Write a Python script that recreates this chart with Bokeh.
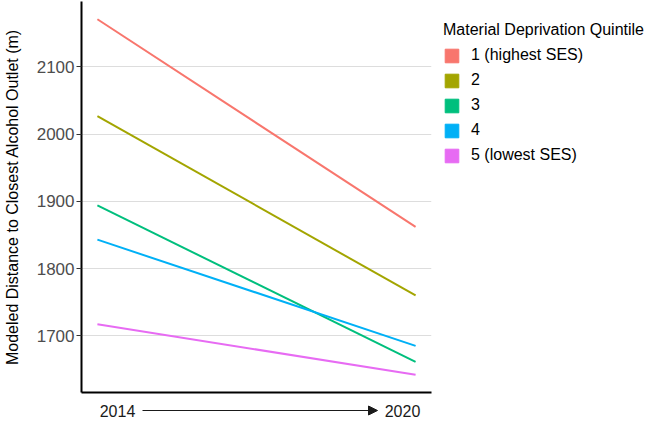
from bokeh.plotting import figure
from bokeh.layouts import row, column
from bokeh.models import (Legend, LegendItem, Arrow, NormalHead,
                          FixedTicker, Range1d)
from bokeh.core.properties import value
from bokeh.embed import file_html
from bokeh.resources import INLINE

# ---- data ----
years = [2014, 2020]
quintiles = ["1 (highest SES)", "2", "3", "4", "5 (lowest SES)"]
dist_2014 = [2171, 2027, 1894, 1843, 1717]
dist_2020 = [1862, 1760, 1661, 1685, 1642]
colors = ["#F8766D", "#A3A500", "#00BF7D", "#00B0F6", "#E76BF3"]
y_ticks = [1700, 1800, 1900, 2000, 2100]
legend_title = "Material Deprivation Quintile"
y_title = "Modeled Distance to Closest Alcohol Outlet (m)"
x_title_start = "2014"
x_title_end = "2020"

FONT = "Liberation Sans"

all_vals = dist_2014 + dist_2020
lo, hi = min(all_vals), max(all_vals)
ypad = 0.05 * (hi - lo)
xpad = 0.05 * (years[1] - years[0])
x0, x1 = years[0] - xpad, years[1] + xpad
y0, y1 = lo - ypad, hi + ypad

TOTAL_W, TOTAL_H = 648, 421
MAIN_W, MAIN_H = 434, 395
LEG_W = TOTAL_W - MAIN_W
XT_H = TOTAL_H - MAIN_H
BT, BB = 1, 3
FH = MAIN_H - BT - BB

# ---------------- main plot ----------------
p = figure(width=MAIN_W, height=MAIN_H, output_backend="svg",
           toolbar_location=None,
           x_range=Range1d(x0, x1), y_range=Range1d(y0, y1),
           min_border_left=0, min_border_right=3, min_border_top=BT,
           min_border_bottom=BB)
p.outline_line_color = None
p.background_fill_color = "white"
p.border_fill_color = "white"

for i, q in enumerate(quintiles):
    p.line(years, [dist_2014[i], dist_2020[i]], line_color=colors[i],
           line_width=2)

ya = p.yaxis[0]
ya.ticker = FixedTicker(ticks=y_ticks)
ya.major_label_text_font_size = "17px"
ya.major_label_text_font = FONT
ya.major_label_text_color = "#4D4D4D"
ya.major_tick_out = 5
ya.major_tick_in = 0
ya.major_tick_line_color = "#333333"
ya.minor_tick_out = 0
ya.minor_tick_in = 0
ya.major_label_standoff = 2
ya.axis_line_width = 2
ya.axis_line_color = "black"
ya.axis_label = y_title
ya.axis_label_text_font = FONT
ya.axis_label_text_font_size = "16px"
ya.axis_label_text_font_style = "normal"
ya.axis_label_text_color = "black"
ya.axis_label_standoff = 13

xa = p.xaxis[0]
xa.ticker = FixedTicker(ticks=[])
xa.major_tick_out = 0
xa.major_tick_in = 0
xa.minor_tick_out = 0
xa.minor_tick_in = 0
xa.major_label_standoff = 0
xa.major_label_text_font_size = "0px"
xa.axis_line_width = 2
xa.axis_line_color = "black"

p.xgrid.visible = False
p.ygrid.grid_line_color = "#DDDDDD"
p.ygrid.grid_line_width = 1

# ---------------- legend panel ----------------
lf = figure(width=LEG_W, height=MAIN_H, output_backend="svg",
            toolbar_location=None, x_axis_location=None,
            y_axis_location=None, x_range=Range1d(0, 1),
            y_range=Range1d(0, 1), min_border_left=0, min_border_right=0,
            min_border_top=BT, min_border_bottom=BB)
lf.outline_line_color = None
lf.grid.visible = False

nan = float("nan")
items = []
for i, q in enumerate(quintiles):
    r = lf.quad(left=[nan], right=[nan], top=[nan], bottom=[nan],
                fill_color=colors[i], line_color=colors[i])
    items.append(LegendItem(label=q, renderers=[r]))

LEG_H = 142      # approx. rendered legend height
LEG_TOP = 21     # offset of legend top below the frame top
legend = Legend(items=items, title=legend_title,
                location=(9, FH - LEG_TOP - LEG_H),
                margin=0, padding=0, glyph_width=17, glyph_height=17,
                spacing=7, label_standoff=11, title_standoff=7,
                label_text_font_size="16px", label_text_font=FONT,
                title_text_font_size="16px", title_text_font=FONT,
                title_text_font_style="normal", label_text_color="#000000",
                title_text_color="#000000",
                border_line_color=None, background_fill_alpha=0)
lf.add_layout(legend)

# ---------------- x title strip: "2014 ----> 2020" ----------------
xt = figure(width=TOTAL_W, height=XT_H, output_backend="svg",
            toolbar_location=None, x_axis_location=None,
            y_axis_location=None, x_range=Range1d(0, TOTAL_W),
            y_range=Range1d(0, XT_H), min_border_left=0, min_border_right=0,
            min_border_top=0, min_border_bottom=0)
xt.outline_line_color = None
xt.grid.visible = False
ty = XT_H - 15
xt.text(x=[117, 402], y=[ty, ty], text=[x_title_start, x_title_end],
        text_align="center", text_baseline="middle",
        text_font=value(FONT), text_font_size="16px", text_color="#1A1A1A")
xt.add_layout(Arrow(x_start=142, y_start=ty, x_end=377, y_end=ty,
                    line_color="#1A1A1A", line_width=1,
                    end=NormalHead(size=9, fill_color="#1A1A1A",
                                   line_color="#1A1A1A")))

layout = column(row(p, lf), xt)
open("out.html", "w").write(file_html(layout, INLINE))
